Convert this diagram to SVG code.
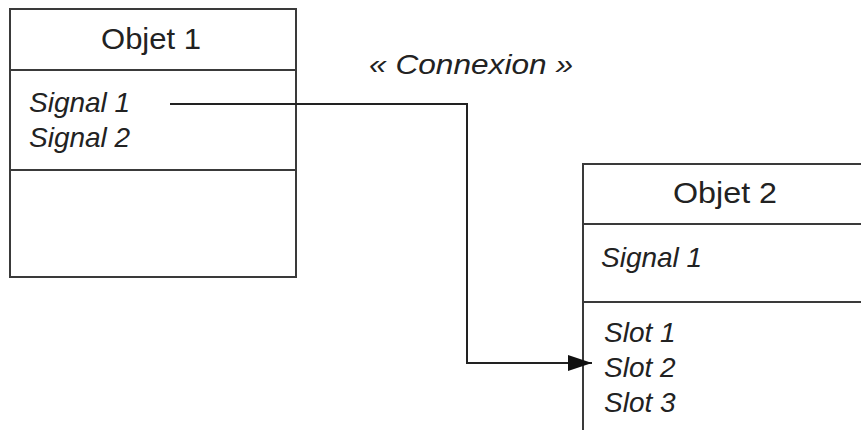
<svg xmlns="http://www.w3.org/2000/svg" width="861" height="430" viewBox="0 0 861 430">
<style>
.box{fill:#fff;stroke:#3a3a3a;stroke-width:2}
.div{stroke:#3a3a3a;stroke-width:2}
.title{font-family:"Liberation Sans",Arial,sans-serif;font-size:29px;fill:#222;text-anchor:middle}
.it{font-family:"Liberation Sans",Arial,sans-serif;font-size:28px;font-style:italic;fill:#222}
.conn{fill:none;stroke:#222;stroke-width:2}
</style>
<defs>
<marker id="arrow" markerUnits="userSpaceOnUse" markerWidth="24" markerHeight="16" viewBox="0 0 24 16" refX="24" refY="8" orient="auto">
<path d="M0,0 L24,8 L0,16 z" fill="#111"/>
</marker>
</defs>
<rect width="861" height="430" fill="#fff"/>
<g id="objet1">
<rect class="box" x="10" y="9" width="286" height="268"/>
<line class="div" x1="10" y1="70" x2="296" y2="70"/>
<line class="div" x1="10" y1="170" x2="296" y2="170"/>
<text class="title" x="151" y="49" textLength="100" lengthAdjust="spacingAndGlyphs">Objet 1</text>
<text class="it" x="29" y="112">Signal 1</text>
<text class="it" x="29" y="147">Signal 2</text>
</g>
<g id="objet2">
<rect class="box" x="583" y="164" width="320" height="300"/>
<line class="div" x1="583" y1="224" x2="861" y2="224"/>
<line class="div" x1="583" y1="302" x2="861" y2="302"/>
<text class="title" x="725" y="203" textLength="104" lengthAdjust="spacingAndGlyphs">Objet 2</text>
<text class="it" x="601" y="267">Signal 1</text>
<text class="it" x="604" y="342">Slot 1</text>
<text class="it" x="604" y="377">Slot 2</text>
<text class="it" x="604" y="412">Slot 3</text>
</g>
<g id="connectors">
<path class="conn" d="M170,104 H467 V363 H592" marker-end="url(#arrow)"/>
<text class="it" x="369" y="74" textLength="204" lengthAdjust="spacingAndGlyphs">« Connexion »</text>
</g>
</svg>
